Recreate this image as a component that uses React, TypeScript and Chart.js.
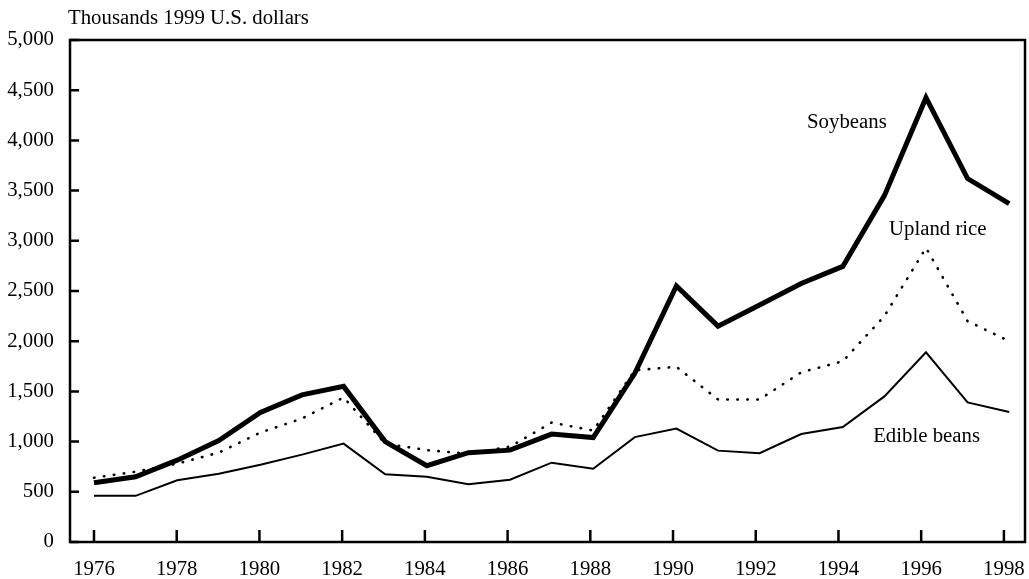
import React, { useEffect, useRef } from "react";
import { Chart, registerables } from "chart.js";

Chart.register(...registerables);

const years = [1976, 1977, 1978, 1979, 1980, 1981, 1982, 1983, 1984, 1985, 1986, 1987, 1988, 1989, 1990, 1991, 1992, 1993, 1994, 1995, 1996, 1997, 1998];
const soybeans = [590, 650, 815, 1010, 1290, 1465, 1550, 1000, 760, 890, 915, 1075, 1040, 1680, 2550, 2150, 2360, 2575, 2745, 3450, 4425, 3620, 3370];
const uplandRice = [640, 700, 780, 890, 1090, 1230, 1440, 980, 915, 880, 950, 1190, 1110, 1710, 1745, 1420, 1420, 1690, 1800, 2250, 2930, 2200, 2000];
const edibleBeans = [460, 460, 615, 680, 770, 870, 980, 675, 650, 575, 620, 790, 730, 1045, 1130, 910, 885, 1075, 1145, 1450, 1890, 1390, 1295];
const xTickYears = [1976, 1978, 1980, 1982, 1984, 1986, 1988, 1990, 1992, 1994, 1996, 1998];
const yTickValues = [0, 500, 1000, 1500, 2000, 2500, 3000, 3500, 4000, 4500, 5000];

const yAxisTitle = "Thousands 1999 U.S. dollars";
const seriesLabels = [
  { text: "Soybeans", x: 1993.14, y: 4125 },
  { text: "Upland rice", x: 1995.11, y: 3062 },
  { text: "Edible beans", x: 1994.73, y: 994 },
];

const FONT = "'Liberation Serif', 'Times New Roman', serif";
const FSIZE = 20.8;

const decor = {
  id: "decor",
  afterDatasetsDraw(chart: any) {
    const { ctx, chartArea: a, scales } = chart;
    ctx.save();
    ctx.strokeStyle = "#000";
    ctx.lineWidth = 2.5;
    ctx.strokeRect(a.left, a.top, a.right - a.left, a.bottom - a.top);
    ctx.beginPath();
    const x2 = scales.x2;
    x2.ticks.forEach((t: any) => {
      const px = x2.getPixelForValue(t.value);
      ctx.moveTo(px, a.bottom);
      ctx.lineTo(px, a.bottom - 12);
    });
    const y = scales.y;
    y.ticks.forEach((t: any) => {
      const py = y.getPixelForValue(t.value);
      ctx.moveTo(a.left, py);
      ctx.lineTo(a.left + 9, py);
    });
    ctx.stroke();
    ctx.fillStyle = "#000";
    ctx.font = `${FSIZE}px ${FONT}`;
    ctx.textAlign = "left";
    ctx.textBaseline = "alphabetic";
    ctx.fillText(yAxisTitle, a.left - 2, a.top - 16);
    seriesLabels.forEach((l) => {
      ctx.fillText(l.text, scales.x.getPixelForValue(l.x), y.getPixelForValue(l.y));
    });
    ctx.restore();
  },
};

export default function App() {
  const ref = useRef<HTMLCanvasElement>(null);
  useEffect(() => {
    if (!ref.current) return;
    const mk = (vals: number[]) => years.map((yr, i) => ({ x: yr, y: vals[i] }));
    const chart = new Chart(ref.current, {
      type: "line",
      data: {
        datasets: [
          {
            label: "Upland rice",
            data: mk(uplandRice),
            borderColor: "#000",
            borderWidth: 2.6,
            borderDash: [0.5, 9.5],
            borderCapStyle: "round",
            pointRadius: 0,
            tension: 0,
          },
          {
            label: "Edible beans",
            data: mk(edibleBeans),
            borderColor: "#000",
            borderWidth: 2,
            borderJoinStyle: "miter",
            pointRadius: 0,
            tension: 0,
          },
          {
            label: "Soybeans",
            data: mk(soybeans),
            borderColor: "#000",
            borderWidth: 5,
            borderJoinStyle: "miter",
            pointRadius: 0,
            tension: 0,
          },
        ],
      },
      options: {
        responsive: false,
        animation: false,
        layout: { padding: { top: 40, right: 4, left: 0, bottom: 0 } },
        plugins: { legend: { display: false }, tooltip: { enabled: false }, title: { display: false } },
        scales: {
          x: {
            type: "linear",
            display: false,
            min: 1975.423,
            max: 1998.38,
          },
          x2: {
            type: "linear",
            position: "bottom",
            min: 1975.42,
            max: 1998.51,
            afterBuildTicks: (s: any) => {
              s.ticks = xTickYears.map((v) => ({ value: v }));
            },
            afterFit: (s: any) => {
              s.height = 37;
              s.paddingLeft = 0;
              s.paddingRight = 0;
            },
            grid: { display: false, drawTicks: false },
            border: { display: false },
            ticks: {
              autoSkip: false,
              maxRotation: 0,
              padding: 15,
              color: "#000",
              font: { family: FONT, size: FSIZE },
              callback: (v: any) => String(v),
            },
          },
          y: {
            type: "linear",
            min: 0,
            max: 5000,
            afterBuildTicks: (s: any) => {
              s.ticks = yTickValues.map((v) => ({ value: v }));
            },
            afterFit: (s: any) => {
              s.width = 70;
              s.paddingTop = 0;
              s.paddingBottom = 0;
            },
            grid: { display: false, drawTicks: false },
            border: { display: false },
            ticks: {
              padding: 16,
              color: "#000",
              font: { family: FONT, size: FSIZE },
              callback: (v: any) => Number(v).toLocaleString("en-US"),
            },
          },
        },
      },
      plugins: [decor],
    });
    return () => chart.destroy();
  }, []);
  return (
    <div style={{ position: "absolute", left: 0, top: 0, width: 1029, height: 579, background: "#fff" }}>
      <canvas ref={ref} width={1029} height={579} />
    </div>
  );
}
